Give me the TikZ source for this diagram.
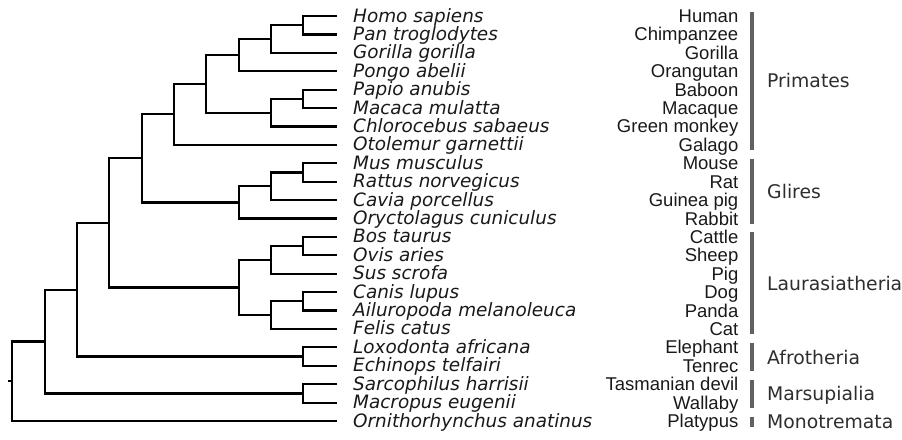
\documentclass[tikz,border=0pt]{standalone}
\usepackage{fontspec}
\setmainfont{DejaVu Sans}
\newfontfamily\arialf{Liberation Sans}
\begin{document}
\begin{tikzpicture}[x=1pt,y=-1pt,
  branch/.style={line width=2.2pt, draw=black},
  species/.style={anchor=base west, inner sep=0pt, font=\fontsize{18.4}{18.4}\selectfont\itshape, text=black!90},
  common/.style={anchor=base east, inner sep=0pt, font=\arialf\fontsize{18.5}{18.5}\selectfont, text=black!90},
  grp/.style={anchor=base west, inner sep=0pt, font=\fontsize{18.8}{18.8}\selectfont, text=black!82},
  gbar/.style={line width=4pt, draw=black!62}]
\useasboundingbox (0,0) rectangle (902,439);

% leaves and labels
\foreach \i/\sp/\cm in {
  1/Homo sapiens/Human,
  2/Pan troglodytes/Chimpanzee,
  3/Gorilla gorilla/Gorilla,
  4/Pongo abelii/Orangutan,
  5/Papio anubis/Baboon,
  6/Macaca mulatta/Macaque,
  7/Chlorocebus sabaeus/Green monkey,
  8/Otolemur garnettii/Galago,
  9/Mus musculus/Mouse,
  10/Rattus norvegicus/Rat,
  11/Cavia porcellus/Guinea pig,
  12/Oryctolagus cuniculus/Rabbit,
  13/Bos taurus/Cattle,
  14/Ovis aries/Sheep,
  15/Sus scrofa/Pig,
  16/Canis lupus/Dog,
  17/Ailuropoda melanoleuca/Panda,
  18/Felis catus/Cat,
  19/Loxodonta africana/Elephant,
  20/Echinops telfairi/Tenrec,
  21/Sarcophilus harrisii/Tasmanian devil,
  22/Macropus eugenii/Wallaby,
  23/Ornithorhynchus anatinus/Platypus}{
  \pgfmathsetmacro\yy{16+(\i-1)*18.41}
  \coordinate (l\i) at (337,\yy);
  \node[species] (s\i) at (353,\yy+6) {\sp};
  \node[common] (c\i) at (738.5,\yy+6.5) {\cm};
}

% internal nodes
\coordinate (nHP)   at (303.3,25.2);
\coordinate (nHPG)  at (271,39.01);
\coordinate (nHom)  at (238.7,55.12);
\coordinate (nPM)   at (303.3,98.85);
\coordinate (nCerc) at (271,112.65);
\coordinate (nCat)  at (206,83.89);
\coordinate (nPri)  at (173.7,114.38);
\coordinate (nMR)   at (303.3,172.49);
\coordinate (nMRC)  at (271,186.29);
\coordinate (nGli)  at (238.7,202.4);
\coordinate (nEA)   at (141.7,158.39);
\coordinate (nBO)   at (303.3,246.13);
\coordinate (nBOS)  at (271,259.93);
\coordinate (nCA)   at (303.3,301.36);
\coordinate (nCAF)  at (271,315.16);
\coordinate (nLau)  at (238.7,287.55);
\coordinate (nBor)  at (109.3,222.97);
\coordinate (nAf)   at (303.3,356.59);
\coordinate (nPla)  at (77.3,289.78);
\coordinate (nMar)  at (303.3,393.4);
\coordinate (nThe)  at (45,341.59);
\coordinate (nRoot) at (12.3,381.3);
\coordinate (stub)  at (7.5,381.3);

% branches
\draw[branch] (l1) -| (nHP) |- (l2);
\draw[branch] (nHP) -| (nHPG) |- (l3);
\draw[branch] (nHPG) -| (nHom) |- (l4);
\draw[branch] (l5) -| (nPM) |- (l6);
\draw[branch] (nPM) -| (nCerc) |- (l7);
\draw[branch] (nHom) -| (nCat) |- (nCerc);
\draw[branch] (nCat) -| (nPri) |- (l8);
\draw[branch] (l9) -| (nMR) |- (l10);
\draw[branch] (nMR) -| (nMRC) |- (l11);
\draw[branch] (nMRC) -| (nGli) |- (l12);
\draw[branch] (nPri) -| (nEA) |- (nGli);
\draw[branch] (l13) -| (nBO) |- (l14);
\draw[branch] (nBO) -| (nBOS) |- (l15);
\draw[branch] (l16) -| (nCA) |- (l17);
\draw[branch] (nCA) -| (nCAF) |- (l18);
\draw[branch] (nBOS) -| (nLau) |- (nCAF);
\draw[branch] (nEA) -| (nBor) |- (nLau);
\draw[branch] (l19) -| (nAf) |- (l20);
\draw[branch] (nBor) -| (nPla) |- (nAf);
\draw[branch] (l21) -| (nMar) |- (l22);
\draw[branch] (nPla) -| (nThe) |- (nMar);
\draw[branch] (nThe) -| (nRoot) |- (l23);
\draw[branch] (stub) -- (nRoot);

% group bars and labels
\foreach \g/\a/\b/\name in {Pri/1/8/Primates, Gli/9/12/Glires, Lau/13/18/Laurasiatheria,
    Afr/19/20/Afrotheria, Mar/21/22/Marsupialia, Mon/23/23/Monotremata}{
  \pgfmathsetmacro\ya{16+(\a-1)*18.41}
  \pgfmathsetmacro\yb{16+(\b-1)*18.41}
  \coordinate (bt\g) at (752,\ya-4.5);
  \coordinate (bb\g) at (752,\yb+5.5);
  \draw[gbar] (bt\g) -- (bb\g);
  \node[grp] (g\g) at (767,{(\ya+\yb)/2+7.5}) {\name};
}
\end{tikzpicture}
\end{document}
